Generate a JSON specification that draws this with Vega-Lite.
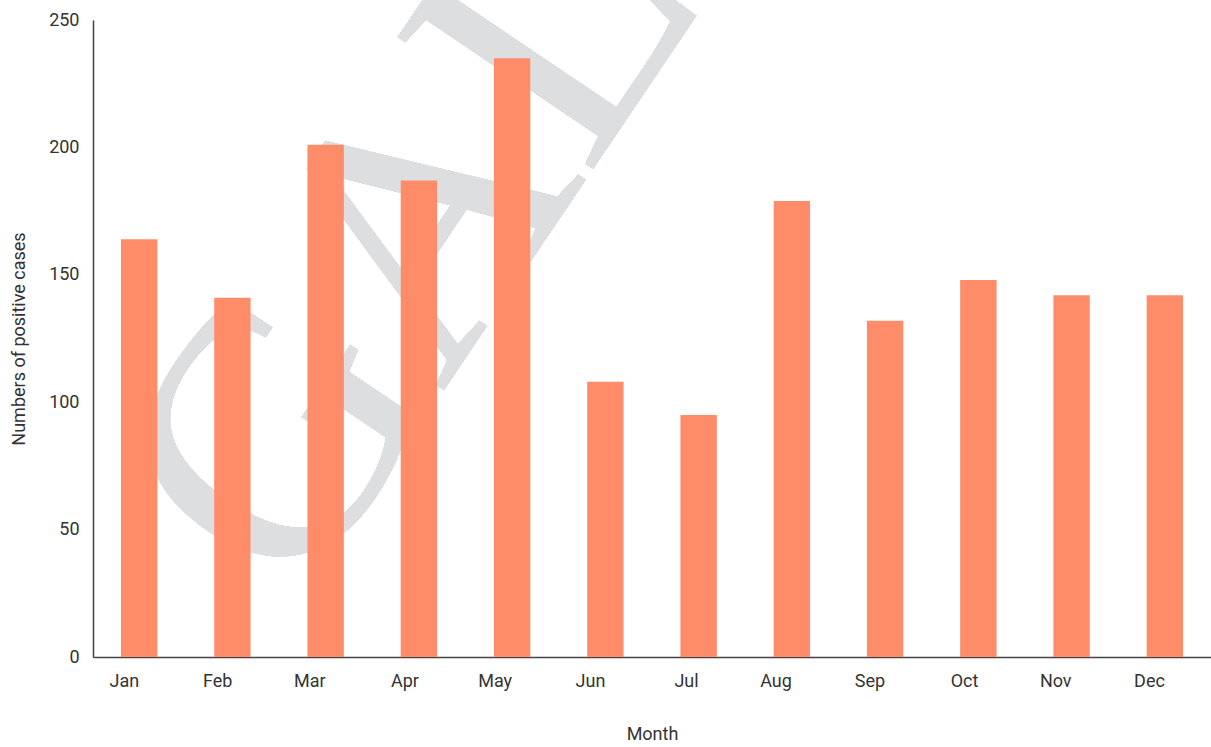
{
  "$schema": "https://vega.github.io/schema/vega-lite/v6.json",
  "width": 1118,
  "height": 637,
  "autosize": {"type": "none"},
  "padding": {"left": 93, "top": 20, "right": 0, "bottom": 90},
  "background": "white",
  "config": {
    "view": {"stroke": null},
    "font": "Roboto",
    "axis": {"labelFont": "Roboto", "titleFont": "Roboto", "labelColor": "#333333", "titleColor": "#333333", "labelFontSize": 18, "titleFontSize": 18, "titleFontWeight": "normal", "grid": false, "ticks": false, "domainColor": "#444444", "domainWidth": 1.5, "zindex": 1}
  },
  "data": {"values": [
    {"month": "Jan", "cases": 164},
    {"month": "Feb", "cases": 141},
    {"month": "Mar", "cases": 201},
    {"month": "Apr", "cases": 187},
    {"month": "May", "cases": 235},
    {"month": "Jun", "cases": 108},
    {"month": "Jul", "cases": 95},
    {"month": "Aug", "cases": 179},
    {"month": "Sep", "cases": 132},
    {"month": "Oct", "cases": 148},
    {"month": "Nov", "cases": 142},
    {"month": "Dec", "cases": 142}
  ]},
  "layer": [
    {
      "mark": {"type": "text", "text": "GAL", "font": "Liberation Serif", "fontSize": 360, "color": "#DDDEE0", "angle": -56, "align": "center", "baseline": "middle", "dx": -9},
      "encoding": {
        "x": {"datum": "Apr", "type": "nominal", "scale": {"domain": ["Jan","Feb","Mar","Apr","May","Jun","Jul","Aug","Sep","Oct","Nov","Dec"]}},
        "y": {"datum": 166, "type": "quantitative", "scale": {"domain": [0, 250], "nice": false}}
      }
    },
    {
      "mark": {"type": "bar", "color": "#FF8C69"},
      "encoding": {
        "x": {"field": "month", "type": "nominal", "sort": null,
          "scale": {"domain": ["Jan","Feb","Mar","Apr","May","Jun","Jul","Aug","Sep","Oct","Nov","Dec"], "paddingInner": 0.61, "paddingOuter": 0.3},
          "axis": {"title": "Month", "labelAngle": 0, "labelPadding": 24, "titlePadding": 35}},
        "y": {"field": "cases", "type": "quantitative", "scale": {"domain": [0, 250], "nice": false},
          "axis": {"title": "Numbers of positive cases", "values": [0, 50, 100, 150, 200, 250], "labelPadding": 14, "titlePadding": 20}}
      }
    }
  ]
}
